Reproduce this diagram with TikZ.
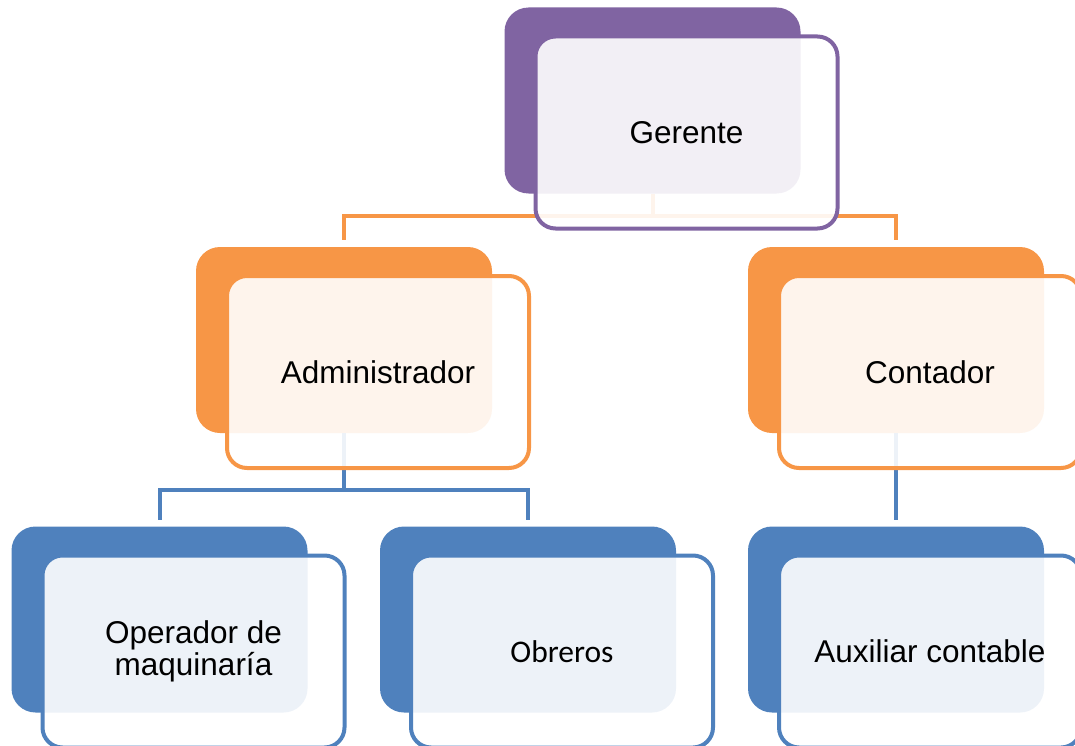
\documentclass[tikz,border=0pt]{standalone}
\usepackage{fontspec}
\setmainfont{Liberation Sans}
\newfontfamily\calibrifont{Carlito}
\definecolor{cpurple}{HTML}{8064A2}
\definecolor{corange}{HTML}{F79646}
\definecolor{cblue}{HTML}{4F81BD}
\tikzset{
  backbox/.style={rectangle, rounded corners=24pt, fill=#1, draw=none,
    minimum width=296pt, minimum height=186pt, inner sep=0pt, outer sep=0pt},
  frontbox/.style={rectangle, rounded corners=20pt, draw=#1, line width=4pt,
    fill=white, fill opacity=0.9, text opacity=1,
    minimum width=302pt, minimum height=192pt, inner sep=0pt, outer sep=0pt,
    align=center, font=\fontsize{31.5}{32}\selectfont, text=black},
  oline/.style={draw=corange, line width=4pt},
  bline/.style={draw=cblue, line width=4pt},
}
\begin{document}
\begin{tikzpicture}[x=1pt,y=-1pt]
\useasboundingbox (0,0) rectangle (1075,746);
% back boxes
\node[backbox=cpurple] (g) at (652.5,100.5) {};
\node[backbox=corange] (a) at (344,340) {};
\node[backbox=corange] (c) at (896,340) {};
\node[backbox=cblue] (o) at (159.5,619.5) {};
\node[backbox=cblue] (b) at (528,619.5) {};
\node[backbox=cblue] (x) at (896,619.5) {};
% connectors
\draw[oline] (g.south) -- ++(0,22) coordinate (gj) -| ([yshift=7pt]a.north);
\draw[oline] (gj) -| ([yshift=7pt]c.north);
\draw[bline] (a.south) -- ++(0,57) coordinate (aj) -| ([yshift=7pt]o.north);
\draw[bline] (aj) -| ([yshift=7pt]b.north);
\draw[bline] (c.south) -- ([yshift=7pt]x.north);
% front boxes
\node[frontbox=cpurple] (gf) at (686.5,132.5) {Gerente};
\node[frontbox=corange] (af) at (378,372) {Administrador};
\node[frontbox=corange] (cf) at (930,372) {Contador};
\node[frontbox=cblue] (of) at (193.5,651.5) {Operador de\\maquinaría};
\node[frontbox=cblue, font=\calibrifont\fontsize{31.5}{32}\selectfont] (bf) at (562,651.5) {Obreros};
\node[frontbox=cblue] (xf) at (930,651.5) {Auxiliar contable};
\end{tikzpicture}
\end{document}
